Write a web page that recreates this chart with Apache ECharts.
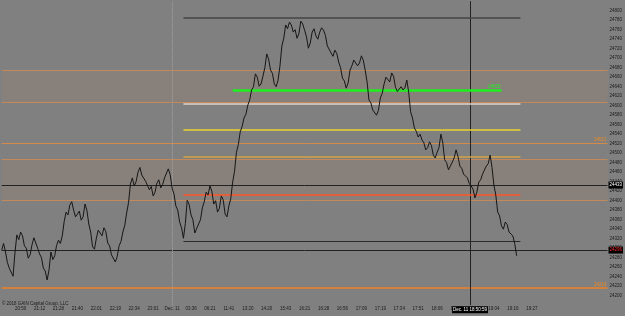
<!DOCTYPE html>
<html>
<head>
<meta charset="utf-8">
<script src="https://cdn.jsdelivr.net/npm/echarts@6/dist/echarts.min.js"></script>
<style>
  html, body { margin: 0; padding: 0; background: #808080; }
  #chart { width: 625px; height: 316px; }
</style>
</head>
<body>
<div id="chart"></div>
<script>
// Time labels under the chart, one every 10 ticks
const timeLabels = ["20:50", "21:12", "21:28", "21:40", "22:01", "22:19", "22:34", "23:01",
  "Dec. 11", "03:36", "06:21", "11:41", "13:20", "14:20", "15:43", "16:21", "16:28", "16:56",
  "17:09", "17:19", "17:34", "17:51", "18:06", "18:27", "18:45", "19:04", "19:16", "19:27"];

// Price, one value per tick
const price = [
  24296, 24310, 24292, 24270, 24258, 24262, 24241, 24290, 24328, 24318,
  24334, 24326, 24305, 24300, 24279, 24286, 24307, 24322, 24326, 24300,
  24288, 24280, 24258, 24252, 24233, 24254, 24292, 24276, 24284, 24306,
  24317, 24310, 24326, 24356, 24376, 24370, 24391, 24398, 24380, 24366,
  24368, 24378, 24359, 24366, 24393, 24380, 24351, 24334, 24303, 24298,
  24321, 24338, 24334, 24326, 24343, 24335, 24311, 24305, 24286, 24284,
  24271, 24282, 24305, 24314, 24334, 24348, 24374, 24396, 24435, 24448,
  24431, 24440, 24460, 24470, 24454, 24458, 24441, 24444, 24423, 24430,
  24410, 24418, 24437, 24444, 24427, 24434, 24448, 24452, 24467, 24455,
  24427, 24414, 24389, 24380, 24355, 24343, 24321, 24352, 24401, 24392,
  24370, 24360, 24332, 24330, 24351, 24360, 24385, 24398, 24418, 24412,
  24431, 24420, 24393, 24400, 24376, 24384, 24410, 24402, 24372, 24366,
  24389, 24404, 24439, 24462, 24502, 24518, 24545, 24556, 24574, 24582,
  24601, 24612, 24633, 24640, 24667, 24660, 24641, 24646, 24662, 24680,
  24709, 24698, 24675, 24668, 24646, 24640, 24654, 24684, 24726, 24742,
  24770, 24762, 24776, 24770, 24755, 24760, 24742, 24752, 24778, 24772,
  24759, 24745, 24721, 24732, 24755, 24762, 24747, 24740, 24755, 24764,
  24759, 24748, 24726, 24724, 24711, 24704, 24717, 24710, 24692, 24680,
  24658, 24652, 24637, 24648, 24675, 24684, 24696, 24700, 24684, 24690,
  24705, 24696, 24675, 24650, 24612, 24606, 24591, 24594, 24580, 24590,
  24616, 24626, 24646, 24660, 24658, 24650, 24669, 24662, 24639, 24630,
  24629, 24640, 24633, 24638, 24654, 24628, 24587, 24574, 24553, 24546,
  24534, 24540, 24528, 24522, 24507, 24512, 24524, 24516, 24496, 24490,
  24502, 24512, 24540, 24522, 24486, 24480, 24465, 24468, 24481, 24490,
  24507, 24494, 24473, 24468, 24456, 24460, 24448, 24436, 24431, 24424,
  24406, 24418, 24439, 24444, 24456, 24460, 24473, 24478, 24496, 24470,
  24433, 24412, 24376, 24368, 24347, 24340, 24355, 24350, 24334, 24338,
  24326, 24310, 24284
];

// Price levels
const zoneHigh = [24675, 24607];
const zoneLow = [24487, 24401];
const orangeLevels = [24521, 24216];
const prevClose = 24433;
const lastPrice = 24296;
const sessionHigh = 24785;
const sessionLow = 24314;
const greenLevel = 24633;
const whiteLevel = 24605;
const yellowLevel = 24549;
const tanLevel = 24493;
const redLevel = 24413;

// Tick indexes for the short levels, the day break and the crosshair
const sessionFrom = 96, sessionTo = 274;
const greenFrom = 122, greenTo = 264;
const dayBreak = 90;
const crossAt = 247.4;
const crossTime = "Dec. 11 18:50:59";

const FONT = "Liberation Sans";
const tiny = 4.5;

function seg(from, to, value, color, width) {
  return [
    { coord: [from, value], lineStyle: { color: color, width: width, type: "solid" } },
    { coord: [to, value] }
  ];
}

const chart = echarts.init(document.getElementById("chart"));

chart.setOption({
  backgroundColor: "#808080",
  animation: false,
  title: {
    text: "\u00a9 2018 GAIN Capital Group, LLC",
    left: 2, top: 301, padding: 0,
    textStyle: { fontFamily: FONT, fontSize: tiny, fontWeight: "normal", color: "#1a1a1a" }
  },
  grid: { left: 1.7, right: 15.3, top: 1.2, bottom: 10.8 },
  xAxis: {
    type: "value", min: 0, max: 320, interval: 10,
    axisLine: { show: false }, axisTick: { show: false }, splitLine: { show: false },
    axisLabel: {
      showMinLabel: false, showMaxLabel: false, margin: 1,
      fontFamily: FONT, fontSize: tiny, color: "#1a1a1a",
      formatter: (v) => timeLabels[v / 10 - 1] || ""
    }
  },
  yAxis: {
    type: "value", position: "right", min: 24180, max: 24820, interval: 20,
    axisLine: { show: false }, axisTick: { show: false }, splitLine: { show: false },
    axisLabel: {
      showMinLabel: false, showMaxLabel: false, margin: 2,
      fontFamily: FONT, fontSize: tiny, color: "#1a1a1a",
      formatter: (v) => String(v)
    }
  },
  series: [{
    type: "line",
    data: price.map((v, i) => [i, v]),
    showSymbol: false,
    lineStyle: { color: "#161616", width: 1 },
    z: 5,
    markArea: {
      silent: true,
      itemStyle: { color: "#88817b" },
      data: [
        [{ yAxis: zoneHigh[0] }, { yAxis: zoneHigh[1] }],
        [{ yAxis: zoneLow[0] }, { yAxis: zoneLow[1] }]
      ]
    },
    markLine: {
      silent: true,
      symbol: "none",
      label: { show: false },
      data: [
        { yAxis: zoneHigh[0], lineStyle: { color: "#c4895a", width: 1, type: "solid" } },
        { yAxis: zoneHigh[1], lineStyle: { color: "#c4895a", width: 1, type: "solid" } },
        { yAxis: zoneLow[0], lineStyle: { color: "#c4895a", width: 1, type: "solid" } },
        { yAxis: zoneLow[1], lineStyle: { color: "#c4895a", width: 1, type: "solid" } },
        {
          yAxis: orangeLevels[0], lineStyle: { color: "#d48a48", width: 1, type: "solid" },
          label: { show: true, position: "insideEndTop", distance: 1, formatter: String(orangeLevels[0]),
            color: "#f08a20", fontFamily: FONT, fontSize: tiny }
        },
        {
          yAxis: orangeLevels[1], lineStyle: { color: "#f08224", width: 1.5, type: "solid" },
          label: { show: true, position: "insideEndTop", distance: 1, formatter: String(orangeLevels[1]),
            color: "#f08a20", fontFamily: FONT, fontSize: tiny }
        },
        {
          yAxis: prevClose, lineStyle: { color: "#222", width: 1, type: "solid" },
          label: { show: true, position: "end", distance: 1, formatter: String(prevClose),
            color: "#fff", backgroundColor: "#000", padding: [1, 1], fontFamily: FONT, fontSize: tiny }
        },
        {
          yAxis: lastPrice, lineStyle: { color: "#222", width: 1, type: "solid" },
          label: { show: true, position: "end", distance: 1, formatter: String(lastPrice),
            color: "#ff2a2a", backgroundColor: "#000", padding: [1, 1], fontFamily: FONT, fontSize: tiny }
        },
        { xAxis: dayBreak, lineStyle: { color: "#a4a4a4", width: 1, type: "dotted" } },
        {
          xAxis: crossAt, lineStyle: { color: "#222", width: 1, type: "solid" },
          label: { show: true, position: "start", distance: 1, formatter: crossTime,
            color: "#fff", backgroundColor: "#000", padding: [1, 1], fontFamily: FONT, fontSize: tiny }
        },
        seg(sessionFrom, sessionTo, sessionHigh, "#454545", 1.5),
        seg(sessionFrom, sessionTo, whiteLevel, "#e2d2ca", 1.5),
        seg(sessionFrom, sessionTo, yellowLevel, "#e6d52c", 1.5),
        seg(sessionFrom, sessionTo, tanLevel, "#d2a444", 1.5),
        seg(sessionFrom, sessionTo, redLevel, "#ff5424", 1.5),
        seg(sessionFrom, sessionTo, sessionLow, "#2a2a2a", 1),
        [
          { coord: [greenFrom, greenLevel], lineStyle: { color: "#1ef01e", width: 2.5, type: "solid" },
            label: { show: true, position: "insideEndTop", distance: 1, formatter: String(greenLevel),
              color: "#22ee22", fontFamily: FONT, fontSize: tiny } },
          { coord: [greenTo, greenLevel] }
        ]
      ]
    }
  }]
});
</script>
</body>
</html>
